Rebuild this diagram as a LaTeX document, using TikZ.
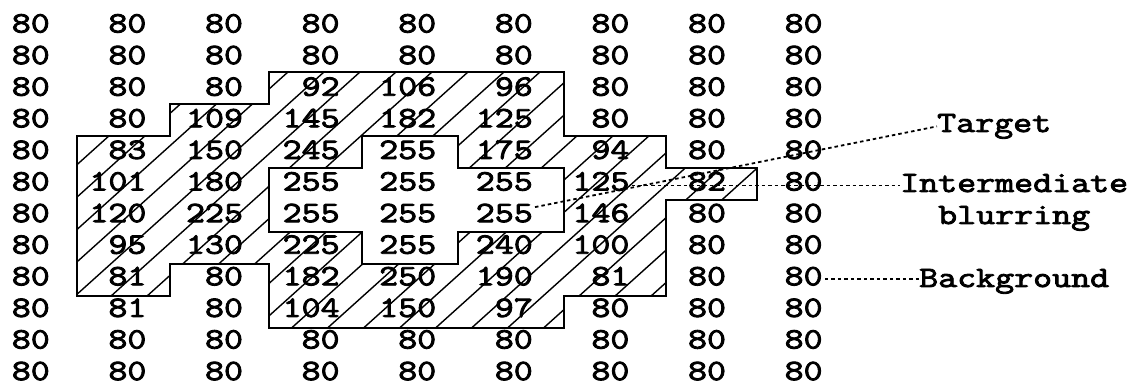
\documentclass[tikz,border=0pt]{standalone}
\usepackage{fontspec}
\newfontfamily\numfamily{Latin Modern Mono}[FakeStretch=1.25,FakeBold=3]
\newcommand\numfont{\numfamily\fontsize{29.5}{32}\selectfont}
\begin{document}
\begin{tikzpicture}[x=1pt,y=-1pt,
  num/.style={font=\numfont, inner sep=0pt, anchor=base east},
  lbl/.style={font=\numfont, inner sep=0pt},
  outline/.style={line width=2.6pt, line join=miter},
  hatch/.style={line width=1.4pt},
  leader/.style={line width=1.8pt, dash pattern=on 3.5pt off 3pt}]
\useasboundingbox (0,0) rectangle (1137,387);
% hatching of blurring zone
\begin{scope}
  \clip (269,72) -- (564,72) -- (564,136) -- (666,136) -- (666,168) -- (757,168)
     -- (757,200) -- (666,200) -- (666,296) -- (564,296) -- (564,328) -- (269,328)
     -- (269,264) -- (170,264) -- (170,296) -- (77,296) -- (77,136) -- (170,136)
     -- (170,104) -- (269,104) -- cycle;
  \foreach \k in {1,...,33}
    \draw[hatch] ({8+36*\k-377.8},340) -- ({8+36*\k-66.7},60);
\end{scope}
% target zone (not hatched)
\fill[white] (362,136) -- (458,136) -- (458,168) -- (564,168) -- (564,232) -- (458,232)
   -- (458,264) -- (362,264) -- (362,232) -- (269,232) -- (269,168) -- (362,168) -- cycle;
% outlines
\draw[outline] (269,72) -- (564,72) -- (564,136) -- (666,136) -- (666,168) -- (757,168)
   -- (757,200) -- (666,200) -- (666,296) -- (564,296) -- (564,328) -- (269,328)
   -- (269,264) -- (170,264) -- (170,296) -- (77,296) -- (77,136) -- (170,136)
   -- (170,104) -- (269,104) -- cycle;
\draw[outline] (362,136) -- (458,136) -- (458,168) -- (564,168) -- (564,232) -- (458,232)
   -- (458,264) -- (362,264) -- (362,232) -- (269,232) -- (269,168) -- (362,168) -- cycle;
% grey values
\foreach \rowvals [count=\ri] in {
  {80,80,80,80,80,80,80,80,80},
  {80,80,80,80,80,80,80,80,80},
  {80,80,80,92,106,96,80,80,80},
  {80,80,109,145,182,125,80,80,80},
  {80,83,150,245,255,175,94,80,80},
  {80,101,180,255,255,255,125,82,80},
  {80,120,225,255,255,255,146,80,80},
  {80,95,130,225,255,240,100,80,80},
  {80,81,80,182,250,190,81,80,80},
  {80,81,80,104,150,97,80,80,80},
  {80,80,80,80,80,80,80,80,80},
  {80,80,80,80,80,80,80,80,80}}{
  \foreach \v [count=\ci] in \rowvals {
    \node[num] (n\ri-\ci) at ({50+96.6*(\ci-1)},{32.5+31.6*(\ri-1)}) {\v};
  }
}
% labels
\node[lbl, anchor=base west] (tgt) at (937,132) {Target};
\node[lbl, anchor=base west] (inter) at (900,192) {Intermediate};
\node[lbl, anchor=base] (blur) at ([yshift=-32pt]inter.base) {blurring};
\node[lbl, anchor=base west] (bg) at (919,287) {Background};
% leaders
\draw[leader] ([shift={(2,-15)}]n7-6.base east) -- (tgt.west);
\draw[leader] ([shift={(2,4)}]n6-7.east) coordinate (istart) -- (istart -| inter.west);
\draw[leader] ([shift={(2,3)}]n9-9.east) coordinate (bstart) -- (bstart -| bg.west);
\end{tikzpicture}
\end{document}
